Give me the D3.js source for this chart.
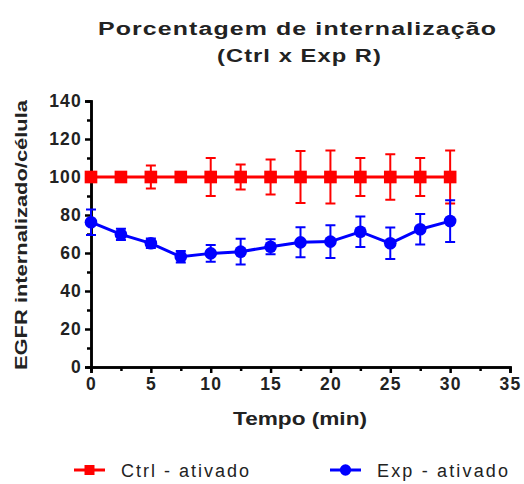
<!DOCTYPE html>
<html>
<head>
<meta charset="utf-8">
<script src="https://cdn.jsdelivr.net/npm/d3@7"></script>
<style>
  body { margin:0; background:#fff; }
  text { font-family: "Liberation Sans", Arial, sans-serif; }
</style>
</head>
<body>
<div id="chart"></div>
<script>
// data
var times = [0, 2.5, 5, 7.5, 10, 12.5, 15, 17.5, 20, 22.5, 25, 27.5, 30];
var ctrlMean = [100, 100, 100, 100, 100, 100, 100, 100, 100, 100, 100, 100, 100];
var ctrlErr  = [2, 2, 6, 2, 10, 6.6, 9.2, 13.7, 14, 10, 12, 10, 14];
var expMean  = [76.2, 69.8, 65.1, 58, 59.8, 60.7, 63.3, 65.6, 66, 71.2, 65.1, 72.5, 76.8];
var expErr   = [6.7, 3, 2.5, 3, 4.4, 6.8, 4, 7.9, 8.6, 8, 8.3, 8, 11];
var xTicks = [0, 5, 10, 15, 20, 25, 30, 35];
var yTicks = [0, 20, 40, 60, 80, 100, 120, 140];

var W = 524, H = 484;
var m = {left:91, right:14, top:101, bottom:117};

var svg = d3.select("#chart").append("svg").attr("width", W).attr("height", H);

var x = d3.scaleLinear().domain([0, 35]).range([m.left, W - m.right]);
var y = d3.scaleLinear().domain([0, 140]).range([H - m.bottom, m.top]);

// axes
svg.append("g").attr("transform", "translate(0," + y(0) + ")")
  .call(d3.axisBottom(x).tickValues(xTicks).tickSize(6).tickPadding(5).tickFormat(d3.format("d")));
svg.append("g").attr("transform", "translate(0," + y(0) + ")")
  .call(d3.axisBottom(x).tickValues(d3.range(2.5, 35, 5)).tickSize(4).tickFormat(""));
svg.append("g").attr("transform", "translate(" + x(0) + ",0)")
  .call(d3.axisLeft(y).tickValues(yTicks).tickSize(6).tickPadding(3).tickFormat(d3.format("d")));
svg.append("g").attr("transform", "translate(" + x(0) + ",0)")
  .call(d3.axisLeft(y).tickValues(d3.range(10, 140, 20)).tickSize(4).tickFormat(""));

svg.selectAll(".domain").attr("stroke", "#000").attr("stroke-width", 2.5);
svg.selectAll(".tick line").attr("stroke", "#000").attr("stroke-width", 2.5);
svg.selectAll(".tick text").attr("fill", "#222")
  .style("font-size", "17.5px").style("font-weight", "bold").style("letter-spacing", "1.2px");

// y axis title
svg.append("text")
  .attr("transform", "translate(27,235) rotate(-90)")
  .attr("x", -135)
  .attr("textLength", 270).attr("lengthAdjust", "spacingAndGlyphs")
  .attr("fill", "#222")
  .style("font-size", "17px").style("font-weight", "bold")
  .text("EGFR internalizado/célula");

// x axis title
svg.append("text")
  .attr("x", 233).attr("y", 425)
  .attr("textLength", 134).attr("lengthAdjust", "spacingAndGlyphs")
  .attr("fill", "#222")
  .style("font-size", "18px").style("font-weight", "bold")
  .text("Tempo (min)");

// chart title
svg.append("text")
  .attr("x", 98).attr("y", 35)
  .attr("textLength", 399).attr("lengthAdjust", "spacingAndGlyphs")
  .attr("fill", "#222")
  .style("font-size", "18px").style("font-weight", "bold").style("letter-spacing", "0.8px")
  .text("Porcentagem de internalização");
svg.append("text")
  .attr("x", 217).attr("y", 62)
  .attr("textLength", 165).attr("lengthAdjust", "spacingAndGlyphs")
  .attr("fill", "#222")
  .style("font-size", "18px").style("font-weight", "bold").style("letter-spacing", "0.8px")
  .text("(Ctrl x Exp R)");

function series(means, errs, color, shape) {
  var pts = times.map(function(t, i){ return {t:t, v:means[i], e:errs[i]}; });
  var g = svg.append("g");
  g.selectAll(".err").data(pts).enter().append("path")
    .attr("fill", "none").attr("stroke", color).attr("stroke-width", 2)
    .attr("d", function(d){
      var cx = x(d.t), y1 = y(d.v + d.e), y2 = y(d.v - d.e);
      return "M" + (cx - 5) + "," + y1 + "H" + (cx + 5) + "M" + cx + "," + y1 + "V" + y2 +
             "M" + (cx - 5) + "," + y2 + "H" + (cx + 5);
    });
  g.append("path").datum(pts)
    .attr("fill", "none").attr("stroke", color).attr("stroke-width", 3)
    .attr("d", d3.line().x(function(d){ return x(d.t); }).y(function(d){ return y(d.v); }));
  g.selectAll(".mk").data(pts).enter().append("path")
    .attr("fill", color)
    .attr("transform", function(d){ return "translate(" + x(d.t) + "," + y(d.v) + ")"; })
    .attr("d", d3.symbol().type(shape).size(shape === d3.symbolSquare ? 160 : 125));
}
series(ctrlMean, ctrlErr, "#ff0000", d3.symbolSquare);
series(expMean, expErr, "#0000ff", d3.symbolCircle);

// legend
var legend = [
  {label:"Ctrl - ativado", color:"#ff0000", shape:d3.symbolSquare, x0:74, tx:121, len:128},
  {label:"Exp - ativado", color:"#0000ff", shape:d3.symbolCircle, x0:330, tx:377, len:131}
];
var lg = svg.selectAll(".lg").data(legend).enter().append("g").attr("transform", "translate(0,470)");
lg.append("line")
  .attr("x1", function(d){ return d.x0; }).attr("x2", function(d){ return d.x0 + 31; })
  .attr("stroke", function(d){ return d.color; }).attr("stroke-width", 3);
lg.append("path")
  .attr("transform", function(d){ return "translate(" + (d.x0 + 15.5) + ",0)"; })
  .attr("fill", function(d){ return d.color; })
  .attr("d", function(d){ return d3.symbol().type(d.shape).size(100)(); });
lg.append("text")
  .attr("x", function(d){ return d.tx; }).attr("y", 7)
  .attr("textLength", function(d){ return d.len; }).attr("lengthAdjust", "spacing")
  .attr("fill", "#222")
  .style("font-size", "18px")
  .text(function(d){ return d.label; });
</script>
</body>
</html>
